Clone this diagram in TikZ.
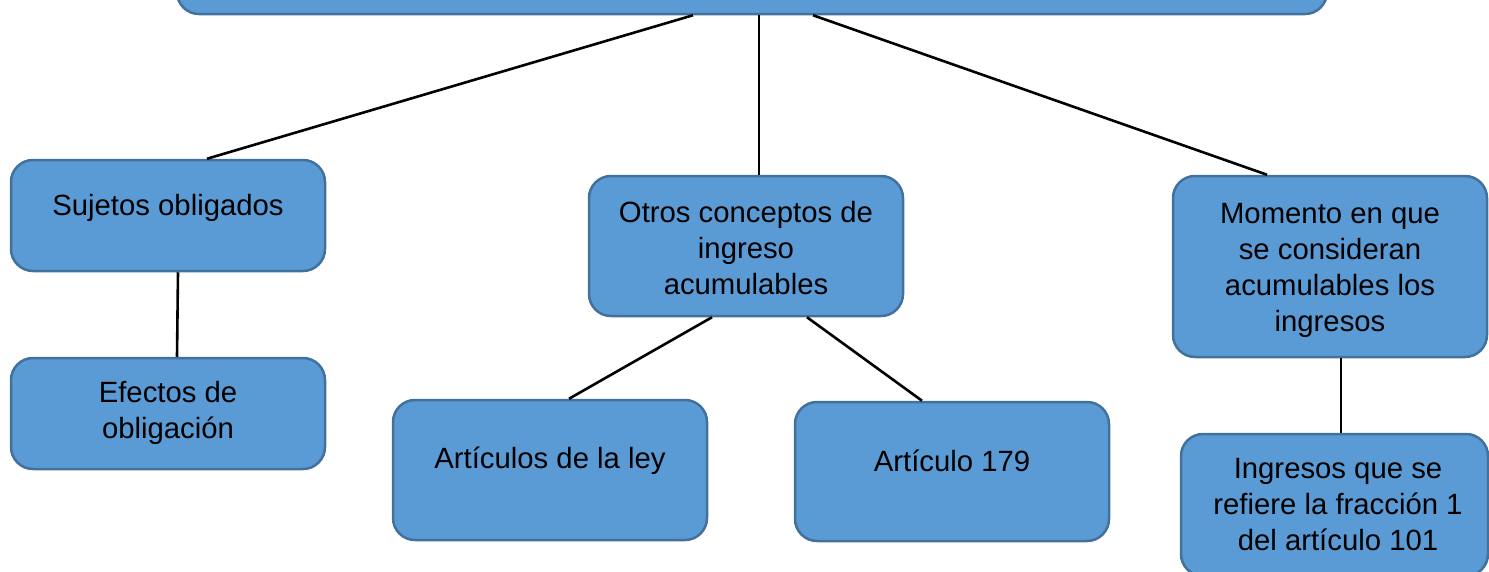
\documentclass[tikz,border=0pt]{standalone}
\usepackage{fontspec}
\setmainfont{Liberation Sans}
\definecolor{boxfill}{RGB}{91,155,213}
\definecolor{boxline}{RGB}{65,113,156}
\tikzset{
  concept/.style={draw=boxline, fill=boxfill, line width=2.5pt, rounded corners=22pt, minimum width=314pt, inner sep=0pt},
  concepttext/.style={font=\fontsize{29.3}{36}\selectfont, align=center, inner sep=0pt},
  link/.style={line width=2.6pt}
}
\begin{document}
\begin{tikzpicture}[x=1pt,y=-1pt]
\clip (0,0) rectangle (1489,571);
% boxes
\node[concept, minimum width=1150pt, minimum height=100pt] (root) at (752,-36) {};
\node[concept, minimum height=111pt] (suj) at (168,215.5) {};
\node[concept, minimum height=111pt] (efe) at (168,413.5) {};
\node[concept, minimum height=140pt] (otros) at (746,246) {};
\node[concept, minimum height=181pt] (mom) at (1330,266.5) {};
\node[concept, minimum height=140pt] (artl) at (550,470) {};
\node[concept, minimum height=139pt] (art179) at (952,471.5) {};
\node[concept, minimum width=307pt, minimum height=142pt] (ingr) at (1334.5,505) {};
% texts
\node[concepttext] (suj-t) at (168,208) {Sujetos obligados};
\node[concepttext] (efe-t) at (168,413) {Efectos de\\obligación};
\node[concepttext] (otros-t) at (746,248) {Otros conceptos de\\ingreso\\acumulables};
\node[concepttext] (mom-t) at (1330,270) {Momento en que\\se consideran\\acumulables los\\ingresos};
\node[concepttext] (artl-t) at (550,461) {Artículos de la ley};
\node[concepttext] (art179-t) at (952,461) {Artículo 179};
\node[concepttext] (ingr-t) at (1338,505) {Ingresos que se\\refiere la fracción 1\\del artículo 101};
% connectors
\draw[link] (693,0 |- root.south) -- (207,0 |- suj.north);
\draw[link] (759,0 |- root.south) -- (759,0 |- otros.north);
\draw[link] (813,0 |- root.south) -- (1267,0 |- mom.north);
\draw[link] (178,0 |- suj.south) -- (177,0 |- efe.north);
\draw[link] (712,0 |- otros.south) -- (569,0 |- artl.north);
\draw[link] (807,0 |- otros.south) -- (922,0 |- art179.north);
\draw[link] (1341,0 |- mom.south) -- (1341,0 |- ingr.north);
\end{tikzpicture}
\end{document}
